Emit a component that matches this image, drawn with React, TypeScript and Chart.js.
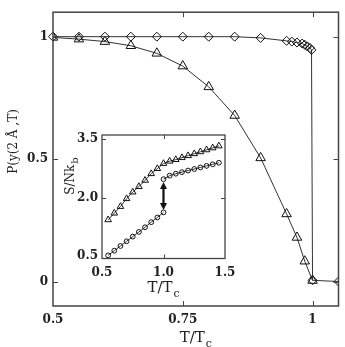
import React, { useEffect, useRef } from "react";
import { Chart, registerables } from "chart.js";

Chart.register(...registerables);

// ---------- Main panel data ----------
const diamondT = [0.5, 0.55, 0.6, 0.65, 0.7, 0.75, 0.8, 0.85, 0.9, 0.95, 0.96, 0.97, 0.98, 0.985, 0.99, 0.995, 0.998, 1.0, 1.05];
const diamondP = [1.0, 1.0, 1.0, 1.0, 1.0, 1.0, 1.0, 1.0, 0.995, 0.983, 0.98, 0.976, 0.972, 0.967, 0.96, 0.954, 0.946, 0.005, 0.0];
const triangleT = [0.5, 0.55, 0.6, 0.65, 0.7, 0.75, 0.8, 0.85, 0.9, 0.95, 0.97, 0.985, 1.0];
const triangleP = [0.997, 0.99, 0.98, 0.963, 0.932, 0.88, 0.795, 0.678, 0.505, 0.276, 0.18, 0.083, 0.004];
const mainXTicks = [0.5, 0.75, 1];
const mainXLabels = ["0.5", "0.75", "1"];
const mainYTicks = [0, 0.5, 1];
const mainYLabels = ["0", "0.5", "1"];
const mainXTitle = "T/T";
const mainXTitleSub = "c";
const mainYTitle = "P(y(2 Å ,T)";

// ---------- Inset data ----------
const insetTriT = [0.55, 0.6, 0.65, 0.7, 0.75, 0.8, 0.85, 0.9, 0.95, 1.0, 1.05, 1.1, 1.15, 1.2, 1.25, 1.3, 1.35, 1.4, 1.45];
const insetTriS = [1.43, 1.6, 1.77, 1.97, 2.14, 2.28, 2.44, 2.61, 2.74, 2.87, 2.93, 2.97, 3.02, 3.07, 3.12, 3.17, 3.22, 3.27, 3.32];
const insetLowT = [0.55, 0.6, 0.65, 0.7, 0.75, 0.8, 0.85, 0.9, 0.95, 1.0];
const insetLowS = [0.52, 0.64, 0.76, 0.88, 1.0, 1.12, 1.24, 1.37, 1.49, 1.62];
const insetHighT = [1.0, 1.05, 1.1, 1.15, 1.2, 1.25, 1.3, 1.35, 1.4, 1.45];
const insetHighS = [2.47, 2.56, 2.61, 2.65, 2.69, 2.73, 2.77, 2.81, 2.85, 2.89];
const insetXTicks = [0.5, 1.0, 1.5];
const insetXLabels = ["0.5", "1.0", "1.5"];
const insetYTicks = [0.5, 2.0, 3.5];
const insetYLabels = ["0.5", "2.0", "3.5"];
const insetXTitle = "T/T";
const insetXTitleSub = "c";
const insetYTitle = "S/Nk";
const insetYTitleSub = "b";
const arrowT = 1.0;
const arrowFrom = 1.68;
const arrowTo = 2.4;

const FONT = "'DejaVu Serif', serif";
const INK = "#222";
const W = 345;
const H = 347;

function pts(xs: number[], ys: number[]) {
  return xs.map((x, i) => ({ x, y: ys[i] }));
}

function subText(ctx: CanvasRenderingContext2D, main: string, sub: string, cx: number, y: number, size: number, subSize: number, dy: number) {
  ctx.font = `${size}px ${FONT}`;
  const w1 = ctx.measureText(main).width;
  ctx.font = `${subSize}px ${FONT}`;
  const w2 = ctx.measureText(sub).width;
  const start = cx - (w1 + w2 + 1) / 2;
  ctx.textAlign = "left";
  ctx.textBaseline = "alphabetic";
  ctx.font = `${size}px ${FONT}`;
  ctx.fillText(main, start, y);
  ctx.font = `${subSize}px ${FONT}`;
  ctx.fillText(sub, start + w1 + 1, y + dy);
}

function framePlugin(id: string, tickLen: number, borderW: number, extra?: (c: any) => void) {
  return {
    id,
    afterDatasetsDraw(chart: any) {
      const { ctx, chartArea: a, scales } = chart;
      ctx.save();
      ctx.strokeStyle = "#444";
      ctx.lineWidth = borderW;
      ctx.strokeRect(a.left, a.top, a.right - a.left, a.bottom - a.top);
      ctx.lineWidth = 1;
      ctx.beginPath();
      for (const t of scales.x.ticks) {
        const px = Math.round(scales.x.getPixelForValue(t.value)) + 0.5;
        if (px <= a.left + 2 || px >= a.right - 2) continue;
        ctx.moveTo(px, a.bottom);
        ctx.lineTo(px, a.bottom - tickLen);
        ctx.moveTo(px, a.top);
        ctx.lineTo(px, a.top + tickLen);
      }
      for (const t of scales.y.ticks) {
        const py = Math.round(scales.y.getPixelForValue(t.value)) + 0.5;
        if (py <= a.top + 2 || py >= a.bottom - 2) continue;
        ctx.moveTo(a.left, py);
        ctx.lineTo(a.left + tickLen, py);
        ctx.moveTo(a.right, py);
        ctx.lineTo(a.right - tickLen, py);
      }
      ctx.stroke();
      ctx.fillStyle = INK;
      if (extra) extra(chart);
      ctx.restore();
    },
  };
}

function tickFn(vals: number[]) {
  return (s: any) => {
    s.ticks = vals.map((v) => ({ value: v }));
  };
}

export default function App() {
  const mainRef = useRef<HTMLCanvasElement>(null);
  const insetRef = useRef<HTMLCanvasElement>(null);

  useEffect(() => {
    const mainChart = new Chart(mainRef.current!, {
      type: "scatter",
      data: {
        datasets: [
          {
            data: pts(diamondT, diamondP),
            showLine: true,
            borderColor: "#333",
            borderWidth: 1,
            pointStyle: "rectRot",
            pointRadius: 4.5,
            pointBorderColor: "#111",
            pointBackgroundColor: "rgba(0,0,0,0)",
            pointBorderWidth: 1,
            clip: { left: false, top: false, right: 0, bottom: false } as any,
          },
          {
            data: pts(triangleT, triangleP),
            showLine: true,
            borderColor: "#333",
            borderWidth: 1,
            pointStyle: "triangle",
            pointRadius: 5.5,
            pointBorderColor: "#111",
            pointBackgroundColor: "rgba(0,0,0,0)",
            pointBorderWidth: 1,
          },
        ],
      },
      options: {
        responsive: false,
        animation: false,
        devicePixelRatio: 1,
        layout: { padding: { left: 0, top: 4, right: 6, bottom: 0 } },
        plugins: { legend: { display: false }, tooltip: { enabled: false } },
        scales: {
          x: {
            type: "linear",
            min: 0.5,
            max: 1.05,
            grid: { display: false, drawTicks: false },
            border: { display: false },
            afterBuildTicks: tickFn(mainXTicks),
            afterFit: (s: any) => {
              s.height = 41;
            },
            ticks: {
              autoSkip: false,
              maxRotation: 0,
              padding: 7,
              color: INK,
              font: { family: FONT, size: 12, weight: "bold" },
              callback: (_v: any, i: number) => mainXLabels[i],
            },
          },
          y: {
            type: "linear",
            min: -0.1,
            max: 1.1,
            grid: { display: false, drawTicks: false },
            border: { display: false },
            afterBuildTicks: tickFn(mainYTicks),
            afterFit: (s: any) => {
              s.width = 53;
            },
            ticks: {
              autoSkip: false,
              padding: 5,
              color: INK,
              font: { family: FONT, size: 12, weight: "bold" },
              callback: (_v: any, i: number) => mainYLabels[i],
            },
          },
        },
      },
      plugins: [
        framePlugin("mainFrame", 5, 1.5, (chart: any) => {
          const { ctx, chartArea: a } = chart;
          subText(ctx, mainXTitle, mainXTitleSub, (a.left + a.right) / 2, 342, 15, 11, 5);
          ctx.save();
          ctx.translate(17, 141.5);
          ctx.rotate(-Math.PI / 2);
          ctx.font = `12px ${FONT}`;
          ctx.textAlign = "center";
          ctx.textBaseline = "alphabetic";
          ctx.fillText(mainYTitle, 0, 0);
          ctx.restore();
        }),
      ],
    } as any);

    const insetChart = new Chart(insetRef.current!, {
      type: "scatter",
      data: {
        datasets: [
          {
            data: pts(insetTriT, insetTriS),
            showLine: true,
            borderColor: "#333",
            borderWidth: 1,
            pointStyle: "triangle",
            pointRadius: 3.8,
            pointBorderColor: "#111",
            pointBackgroundColor: "rgba(0,0,0,0)",
            pointBorderWidth: 1,
          },
          {
            data: pts(insetLowT, insetLowS),
            showLine: true,
            borderColor: "#333",
            borderWidth: 1,
            pointStyle: "circle",
            pointRadius: 2.4,
            pointBorderColor: "#111",
            pointBackgroundColor: "rgba(0,0,0,0)",
            pointBorderWidth: 1,
          },
          {
            data: pts(insetHighT, insetHighS),
            showLine: true,
            borderColor: "#333",
            borderWidth: 1,
            pointStyle: "circle",
            pointRadius: 2.4,
            pointBorderColor: "#111",
            pointBackgroundColor: "rgba(0,0,0,0)",
            pointBorderWidth: 1,
          },
        ],
      },
      options: {
        responsive: false,
        animation: false,
        devicePixelRatio: 1,
        layout: { padding: { left: 60, top: 135, right: 120, bottom: 60 } },
        plugins: { legend: { display: false }, tooltip: { enabled: false } },
        scales: {
          x: {
            type: "linear",
            min: 0.5,
            max: 1.5,
            grid: { display: false, drawTicks: false },
            border: { display: false },
            afterBuildTicks: tickFn(insetXTicks),
            afterFit: (s: any) => {
              s.height = 28.5;
            },
            ticks: {
              autoSkip: false,
              maxRotation: 0,
              padding: 7,
              color: INK,
              font: { family: FONT, size: 12, weight: "bold" },
              callback: (_v: any, i: number) => insetXLabels[i],
            },
          },
          y: {
            type: "linear",
            min: 0.44,
            max: 3.6,
            grid: { display: false, drawTicks: false },
            border: { display: false },
            afterBuildTicks: tickFn(insetYTicks),
            afterFit: (s: any) => {
              s.width = 42;
            },
            ticks: {
              autoSkip: false,
              padding: 4,
              color: INK,
              font: { family: FONT, size: 12, weight: "bold" },
              callback: (_v: any, i: number) => insetYLabels[i],
            },
          },
        },
      },
      plugins: [
        framePlugin("insetFrame", 4, 1.3, (chart: any) => {
          const { ctx, chartArea: a, scales } = chart;
          // arrow
          const ax = scales.x.getPixelForValue(arrowT);
          const y1 = scales.y.getPixelForValue(arrowFrom);
          const y2 = scales.y.getPixelForValue(arrowTo);
          ctx.strokeStyle = "#111";
          ctx.fillStyle = "#111";
          ctx.lineWidth = 2.2;
          ctx.beginPath();
          ctx.moveTo(ax, y1 - 5);
          ctx.lineTo(ax, y2 + 5);
          ctx.stroke();
          ctx.beginPath();
          ctx.moveTo(ax, y1);
          ctx.lineTo(ax - 3.5, y1 - 7);
          ctx.lineTo(ax + 3.5, y1 - 7);
          ctx.closePath();
          ctx.fill();
          ctx.beginPath();
          ctx.moveTo(ax, y2);
          ctx.lineTo(ax - 3.5, y2 + 7);
          ctx.lineTo(ax + 3.5, y2 + 7);
          ctx.closePath();
          ctx.fill();
          ctx.fillStyle = INK;
          subText(ctx, insetXTitle, insetXTitleSub, (a.left + a.right) / 2, 292, 15, 11, 5);
          ctx.save();
          ctx.translate(74, 176);
          ctx.rotate(-Math.PI / 2);
          subText(ctx, insetYTitle, insetYTitleSub, 0, 0, 12, 10, 4);
          ctx.restore();
        }),
      ],
    } as any);

    return () => {
      mainChart.destroy();
      insetChart.destroy();
    };
  }, []);

  const cs: React.CSSProperties = { position: "absolute", left: 0, top: 0, width: W, height: H };
  return (
    <div style={{ position: "absolute", left: 0, top: 0, width: W, height: H, background: "#fff" }}>
      <canvas ref={mainRef} width={W} height={H} style={cs} />
      <canvas ref={insetRef} width={W} height={H} style={cs} />
    </div>
  );
}
